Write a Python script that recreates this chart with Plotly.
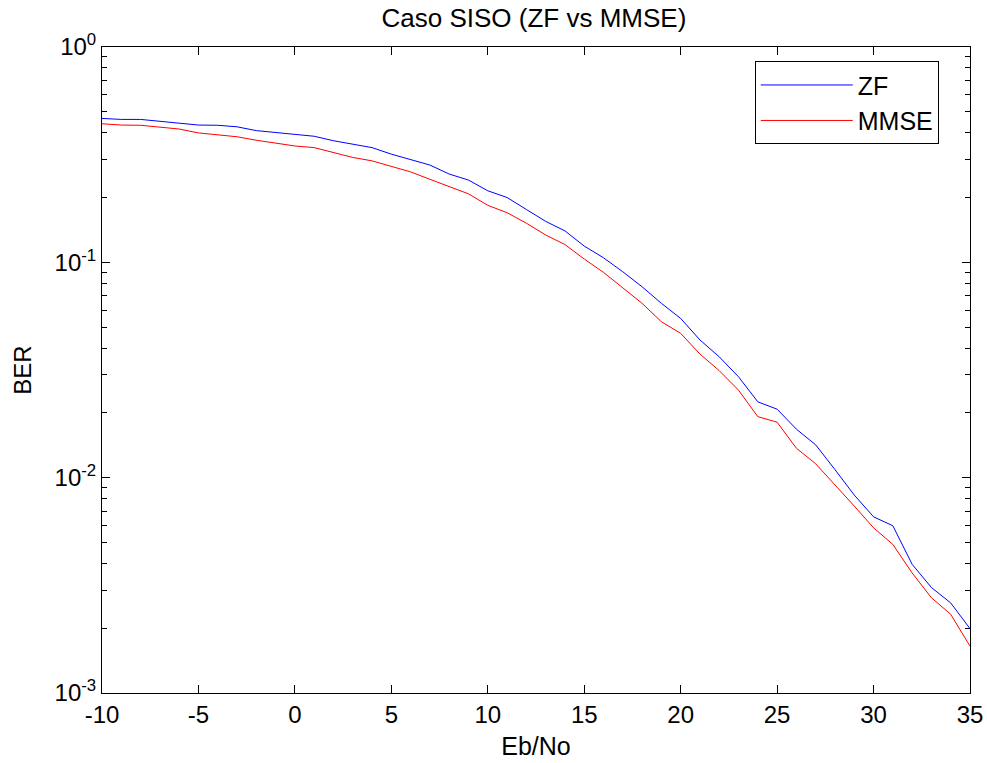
import plotly.graph_objects as go

EBNO = list(range(-10, 36))

BER_ZF = [
    0.466, 0.461, 0.461, 0.452, 0.443, 0.434, 0.433, 0.426, 0.409, 0.400,
    0.393, 0.385, 0.367, 0.353, 0.341, 0.318, 0.301, 0.283, 0.257, 0.241,
    0.215, 0.200, 0.176, 0.155, 0.140, 0.119, 0.105, 0.0904, 0.0770, 0.0645,
    0.0549, 0.0436, 0.0364, 0.0294, 0.0225, 0.0208, 0.0168, 0.0142, 0.0109, 0.0083,
    0.00658, 0.00598, 0.00396, 0.00309, 0.00262, 0.00199,
]

BER_MMSE = [
    0.440, 0.434, 0.433, 0.425, 0.416, 0.399, 0.392, 0.383, 0.369, 0.358,
    0.347, 0.341, 0.323, 0.307, 0.296, 0.278, 0.263, 0.243, 0.224, 0.208,
    0.184, 0.170, 0.152, 0.134, 0.121, 0.1036, 0.0898, 0.0762, 0.0645, 0.0530,
    0.0468, 0.0375, 0.0314, 0.0255, 0.0192, 0.0181, 0.0137, 0.0116, 0.0093, 0.00738,
    0.00585, 0.00490, 0.00361, 0.00277, 0.00232, 0.00165,
]

X_TICKS = list(range(-10, 36, 5))
X_TICKTEXT = [str(v) for v in X_TICKS]
Y_TICKS = [1, 0.1, 0.01, 0.001]
Y_TICKTEXT = ["10<sup>0</sup>", "10<sup>-1</sup>", "10<sup>-2</sup>", "10<sup>-3</sup>"]
Y_MINOR = [m * 10.0 ** e for e in (-3, -2, -1) for m in range(2, 10)]

FONT = "Arial, Liberation Sans, sans-serif"

fig = go.Figure()
fig.add_trace(go.Scatter(x=EBNO, y=BER_ZF, mode="lines", name="ZF",
                         line=dict(color="#0000ff", width=1)))
fig.add_trace(go.Scatter(x=EBNO, y=BER_MMSE, mode="lines", name="MMSE",
                         line=dict(color="#ff0000", width=1)))

fig.update_layout(
    width=987,
    height=763,
    margin=dict(l=102, r=17, t=47, b=70),
    paper_bgcolor="white",
    plot_bgcolor="white",
    font=dict(family=FONT, size=24, color="black"),
    title=dict(text="Caso SISO (ZF vs MMSE)", x=0.541, xanchor="center",
               y=0.976, yanchor="middle", font=dict(size=26)),
    legend=dict(x=0.752, y=0.978, xanchor="left", yanchor="top",
                bordercolor="black", borderwidth=1, bgcolor="white",
                font=dict(size=25), itemwidth=92),
)

fig.update_xaxes(
    range=[-10, 35],
    tickvals=X_TICKS,
    ticktext=X_TICKTEXT,
    ticks="inside", ticklen=8, tickcolor="black",
    showline=True, linecolor="black", linewidth=1, mirror="ticks",
    showgrid=False, zeroline=False, automargin=False,
    tickfont=dict(size=24),
    title=dict(text="Eb/No", font=dict(size=25), standoff=10),
)

fig.update_yaxes(
    type="log",
    range=[-3, 0],
    tickvals=Y_TICKS,
    ticktext=Y_TICKTEXT,
    ticks="inside", ticklen=8, tickcolor="black",
    showline=True, linecolor="black", linewidth=1, mirror="ticks",
    showgrid=False, zeroline=False, automargin=False,
    tickfont=dict(size=24),
    minor=dict(tickvals=Y_MINOR, ticks="inside", ticklen=5, tickcolor="black", showgrid=False),
    title=dict(text="BER", font=dict(size=24), standoff=16),
)

fig.write_html("out.html", config={"displayModeBar": False},
               post_script="document.body.style.margin='0';")
